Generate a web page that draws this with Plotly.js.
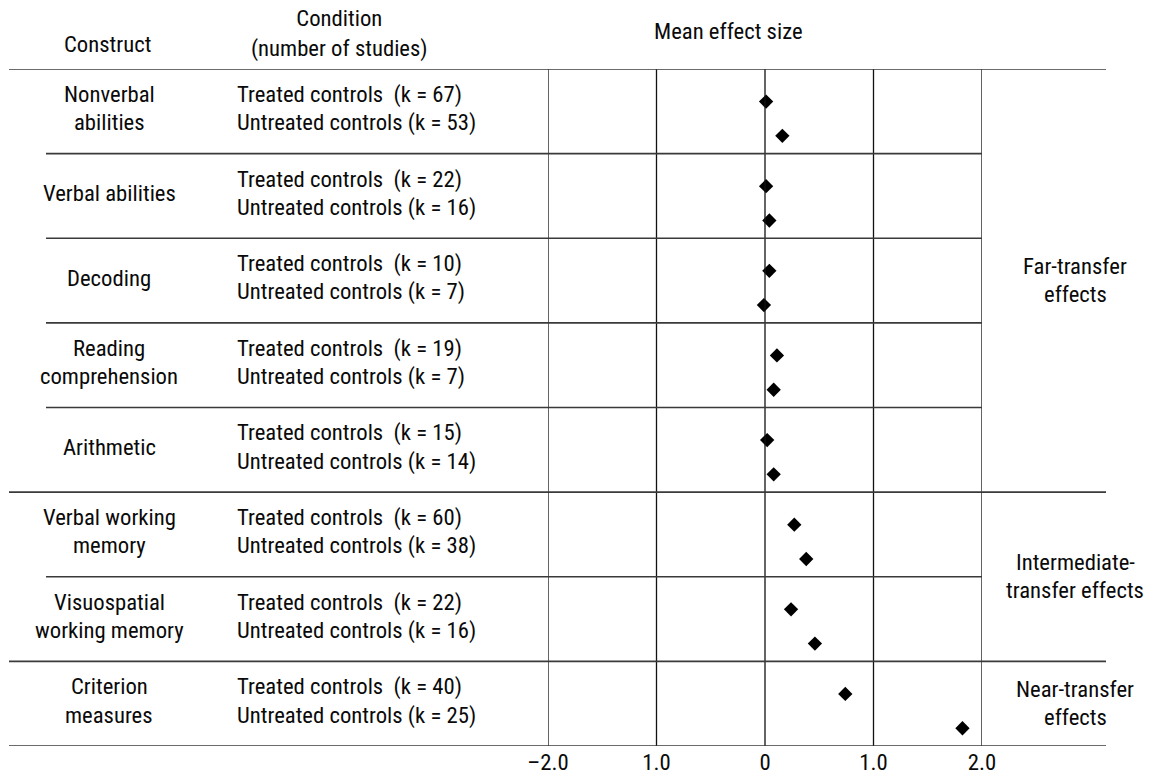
<!DOCTYPE html>
<html>
<head>
<meta charset="utf-8">
<script src="https://cdn.plot.ly/plotly-3.0.1.min.js"></script>
<style>
  html, body { margin: 0; padding: 0; background: #ffffff; }
  #chart { width: 1152px; height: 782px; }
</style>
</head>
<body>
<div id="chart"></div>
<script>
// ---------------- data ----------------
const constructs = [
  ["Nonverbal", "abilities"],
  ["Verbal abilities"],
  ["Decoding"],
  ["Reading", "comprehension"],
  ["Arithmetic"],
  ["Verbal working", "memory"],
  ["Visuospatial", "working memory"],
  ["Criterion", "measures"]
];
const transferType = ["far", "far", "far", "far", "far", "intermediate", "intermediate", "near"];
const transferNames = ["far", "intermediate", "near"];
const transferLabelLines = [
  ["Far-transfer", "effects"],
  ["Intermediate-", "transfer effects"],
  ["Near-transfer", "effects"]
];
const treatedK   = [67, 22, 10, 19, 15, 60, 22, 40];
const untreatedK = [53, 16, 7, 7, 14, 38, 16, 25];
const treatedEffect   = [0.01, 0.01, 0.04, 0.11, 0.02, 0.27, 0.24, 0.74];
const untreatedEffect = [0.16, 0.04, -0.01, 0.08, 0.08, 0.38, 0.46, 1.82];
const tickVals = [-2, -1, 0, 1, 2];
const tickText = ["\u20132.0", "1.0", "0", "1.0", "2.0"];

// ---------------- layout helpers ----------------
const W = 1152, H = 782;
const M = { l: 548, r: 170, t: 69, b: 36 };
const plotW = W - M.l - M.r;
const plotH = H - M.t - M.b;
const px = p => (p - M.l) / plotW;
const py = p => (H - M.b - p) / plotH;

const FONT = "'Roboto Condensed', 'DejaVu Sans Condensed', sans-serif";
const FS = 22.7;
const TXT = "#0a0a0a";
const nG = constructs.length;
const ROW_T = 0.30, ROW_U = 0.635;       // text rows inside a group
const MK_T = 0.385, MK_U = 0.79;         // marker rows inside a group

const gIdx = constructs.map((_, i) => i);

const markerStyle = { symbol: "diamond", size: 11, color: "#000000", line: { width: 0 } };
const traces = [
  {
    type: "scatter", mode: "markers", name: "Treated controls",
    x: treatedEffect, y: gIdx.map(g => g + MK_T),
    marker: markerStyle, hoverinfo: "skip", cliponaxis: false
  },
  {
    type: "scatter", mode: "markers", name: "Untreated controls",
    x: untreatedEffect, y: gIdx.map(g => g + MK_U),
    marker: markerStyle, hoverinfo: "skip", cliponaxis: false
  }
];

const shapes = [];
// vertical reference lines at tick positions
tickVals.forEach(v => shapes.push({
  type: "line", xref: "x", yref: "paper", x0: v, x1: v, y0: 0, y1: 1,
  line: { color: "#111111", width: 1.3 }
}));
// horizontal group separators
const LONG_X0 = px(9), LONG_X1 = px(1106), SHORT_X0 = px(46);
for (let b = 0; b <= nG; b++) {
  const long = (b === 0 || b === nG || transferType[b] !== transferType[b - 1]);
  shapes.push({
    type: "line", xref: "paper", yref: "y",
    x0: long ? LONG_X0 : SHORT_X0, x1: long ? LONG_X1 : 1,
    y0: b, y1: b,
    line: { color: "#3a3a3a", width: 1.6 }
  });
}

const annotations = [];
const ann = (text, x, y, yref, xanchor) => annotations.push({
  text, x, y, xref: "paper", yref, xanchor, yanchor: "middle",
  showarrow: false, font: { family: FONT, size: FS, color: TXT }
});

// headers
ann("Construct", px(107), py(45), "paper", "center");
ann("Condition<br>(number of studies)", px(339), py(33), "paper", "center");
ann("Mean effect size", px(728), py(31), "paper", "center");

// rows
gIdx.forEach(g => {
  ann("Treated controls  (k = " + treatedK[g] + ")", px(235), g + ROW_T, "y", "left");
  ann("Untreated controls (k = " + untreatedK[g] + ")", px(235), g + ROW_U, "y", "left");
  const lines = constructs[g];
  if (lines.length === 2) {
    ann(lines[0], px(109), g + ROW_T, "y", "center");
    ann(lines[1], px(109), g + ROW_U, "y", "center");
  } else {
    ann(lines[0], px(109), g + 0.47, "y", "center");
  }
});

// transfer-type labels on the right
transferNames.forEach((name, i) => {
  const members = gIdx.filter(g => transferType[g] === name);
  const mid = (members[0] + members[members.length - 1] + 1) / 2;
  const half = 14.2 / (plotH / nG);
  ann(transferLabelLines[i][0], px(1075), mid - half, "y", "center");
  ann(transferLabelLines[i][1], px(1075), mid + half, "y", "center");
});

const layout = {
  width: W, height: H,
  margin: { l: M.l, r: M.r, t: M.t, b: M.b, pad: 0 },
  paper_bgcolor: "#ffffff", plot_bgcolor: "#ffffff",
  showlegend: false,
  xaxis: {
    range: [-2, 2], tickvals: tickVals, ticktext: tickText,
    showgrid: false, zeroline: false, showline: false, ticks: "",
    tickfont: { family: FONT, size: FS, color: TXT }, fixedrange: true
  },
  yaxis: {
    range: [nG, 0], visible: false, showgrid: false, zeroline: false, fixedrange: true
  },
  shapes, annotations
};

Plotly.newPlot("chart", traces, layout, { displayModeBar: false, staticPlot: true });
</script>
</body>
</html>
